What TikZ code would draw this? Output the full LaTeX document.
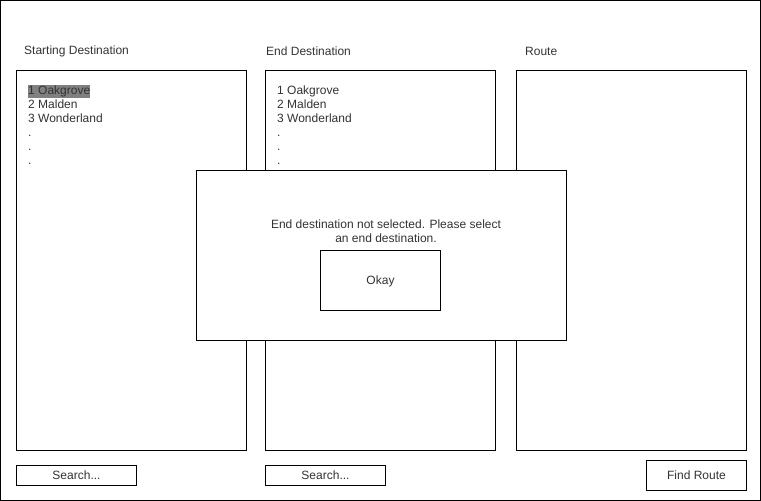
\documentclass[tikz,border=0pt]{standalone}
\usepackage{fontspec}
\setmainfont{Liberation Sans}
\begin{document}
\begin{tikzpicture}[x=1pt,y=-1pt,
  box/.style={draw=black,line width=1pt,fill=white,outer sep=0pt},
  lbl/.style={font=\fontsize{12}{14}\selectfont,inner sep=0pt,text=black!80},
  btn/.style={box,lbl,anchor=north west,text height=11pt,text depth=3pt},
  item/.style={lbl,anchor=west,text height=9.5pt,text depth=3pt}]
\useasboundingbox (0,0) rectangle (761,501);
\draw[line width=1pt] (0.5,0.5) rectangle (760.5,500.5);
% headers
\node[lbl,anchor=west] (h1) at (24,51) {Starting Destination};
\node[lbl,anchor=west] (h2) at (266,51) {End Destination};
\node[lbl,anchor=west] (h3) at (525,51) {Route};
% list boxes
\draw[box] (16.5,70.5) rectangle (246.5,450.5);
\draw[box] (265.5,70.5) rectangle (495.5,450.5);
\draw[box] (516.5,70.5) rectangle (746.5,450.5);
% left list
\node[item,fill=black!50] (l1) at (28,91.5) {1 Oakgrove};
\node[item] (l2) at (28,105.5) {2 Malden};
\node[item] (l3) at (28,119.5) {3 Wonderland};
\node[item] (l4) at (28,133.5) {.};
\node[item] (l5) at (28,147.5) {.};
\node[item] (l6) at (28,161.5) {.};
% middle list
\node[item] (m1) at (277,91.5) {1 Oakgrove};
\node[item] (m2) at (277,105.5) {2 Malden};
\node[item] (m3) at (277,119.5) {3 Wonderland};
\node[item] (m4) at (277,133.5) {.};
\node[item] (m5) at (277,147.5) {.};
\node[item] (m6) at (277,161.5) {.};
% popup
\draw[box] (196.5,170.5) rectangle (566.5,340.5);
\node[lbl,align=center] (msg) at (386,231.5) {End destination not selected. Please select\\an end destination.};
\node[btn,minimum width=120pt,minimum height=60pt] (ok) at (320.5,250.5) {Okay};
% bottom buttons
\node[btn,minimum width=120pt,minimum height=20pt] (s1) at (16.5,465.5) {Search...};
\node[btn,minimum width=120pt,minimum height=20pt] (s2) at (265.5,465.5) {Search...};
\node[btn,minimum width=100pt,minimum height=30pt] (fr) at (646.5,460.5) {Find Route};
\end{tikzpicture}
\end{document}
